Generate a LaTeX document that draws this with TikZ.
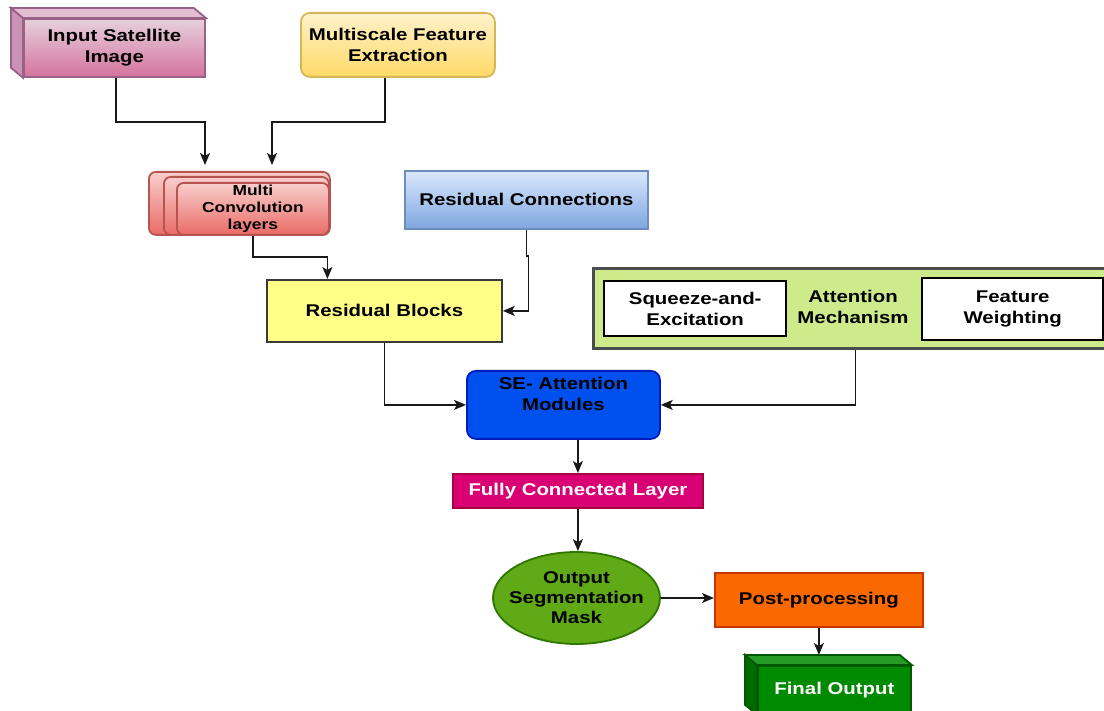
\documentclass[tikz,border=0pt]{standalone}
\usepackage{fontspec}
\setmainfont[FakeStretch=1.2]{Liberation Sans}
\usetikzlibrary{arrows.meta,shapes.geometric,calc}
\definecolor{inpT}{HTML}{E6D0DE}\definecolor{inpB}{HTML}{D5739D}\definecolor{inpD}{HTML}{996185}\definecolor{inpS}{HTML}{C993B5}
\definecolor{msT}{HTML}{FFF2CC}\definecolor{msB}{HTML}{FFD966}\definecolor{msD}{HTML}{D6B656}
\definecolor{cvT}{HTML}{F8CECC}\definecolor{cvB}{HTML}{EA6B66}\definecolor{cvD}{HTML}{B85450}
\definecolor{rcT}{HTML}{DAE8FC}\definecolor{rcB}{HTML}{7EA6E0}\definecolor{rcD}{HTML}{6C8EBF}
\definecolor{rbF}{HTML}{FFFF88}\definecolor{grD}{HTML}{36393D}
\definecolor{atF}{HTML}{CDEB8B}
\definecolor{seF}{HTML}{0050EF}\definecolor{seD}{HTML}{001DBC}
\definecolor{fcF}{HTML}{D80073}\definecolor{fcD}{HTML}{A50040}
\definecolor{elF}{HTML}{60A917}\definecolor{elD}{HTML}{2D7600}
\definecolor{ppF}{HTML}{FA6800}\definecolor{ppD}{HTML}{C73500}
\definecolor{fiF}{HTML}{008A00}\definecolor{fiD}{HTML}{005700}\definecolor{fiS}{HTML}{006B00}
\begin{document}
\begin{tikzpicture}[x=1pt,y=-1pt,
  box/.style={draw, line width=1.8pt, align=center, inner sep=0pt,
    font=\bfseries\fontsize{17}{21}\selectfont, anchor=north west},
  convst/.style={box, rounded corners=7pt, top color=cvT, bottom color=cvB, draw=cvD,
    font=\bfseries\fontsize{14.5}{17}\selectfont},
  arr/.style={-{Stealth[length=12pt,width=10pt,inset=3pt]}, line width=1.6pt, black!90}
]
\useasboundingbox (0,0) rectangle (1104,711);

% Input Satellite Image (cube)
\node[box, draw=inpD, top color=inpT, bottom color=inpB, minimum width=181, minimum height=58] (inp) at (23,18) {Input Satellite\\Image};
\path[draw=inpD, line width=1.8pt, fill=inpS] (inp.north west) -- ++(-12,-10) -- ($(inp.south west)+(-12,-10)$) -- (inp.south west) -- cycle;
\path[draw=inpD, line width=1.8pt, fill=inpT!80!inpB] (inp.north west) -- ++(-12,-10) -- ($(inp.north east)+(-12,-10)$) -- (inp.north east) -- cycle;

% Multiscale Feature Extraction
\node[box, rounded corners=9pt, draw=msD, top color=msT, bottom color=msB, minimum width=194, minimum height=64] (ms) at (300,12) {Multiscale Feature\\Extraction};

% Multi Convolution layers (stack)
\node[convst, minimum width=181, minimum height=63] (convc) at (148,171) {};
\node[convst, minimum width=165, minimum height=58] (convb) at (163,176) {};
\node[convst, minimum width=152, minimum height=52] (conv) at (176,182) {Multi\\Convolution\\layers};

% Residual Connections
\node[box, draw=rcD, top color=rcT, bottom color=rcB, minimum width=243, minimum height=58] (rc) at (404,170) {Residual Connections};

% Residual Blocks
\node[box, draw=grD, fill=rbF, minimum width=235, minimum height=62] (rb) at (266,279) {Residual Blocks};

% Attention Mechanism group
\node[box, draw=grD!90, line width=3pt, fill=atF, minimum width=524, minimum height=80] (att) at (592,267) {};
\node[font=\bfseries\fontsize{17}{21}\selectfont, align=center, inner sep=0pt] (attl) at (853,307) {Attention\\Mechanism};
\node[box, draw=black, line width=2.4pt, fill=white, minimum width=182, minimum height=55] (sq) at (603,280) {Squeeze-and-\\Excitation};
\node[box, draw=black, line width=2.4pt, fill=white, minimum width=181, minimum height=62] (fw) at (921,277) {Feature\\Weighting};

% SE- Attention Modules
\node[box, rounded corners=9pt, draw=seD, fill=seF, minimum width=193, minimum height=68,
  label={[anchor=north, yshift=-7pt, align=center, inner sep=0pt, font=\bfseries\fontsize{17}{21}\selectfont]north:SE- Attention\\Modules}] (se) at (466,370) {};

% Fully Connected Layer
\node[box, draw=fcD, fill=fcF, text=white, minimum width=250, minimum height=34] (fc) at (452,473) {Fully Connected Layer};

% Output Segmentation Mask
\node[ellipse, draw=elD, line width=1.8pt, fill=elF, minimum width=167, minimum height=92, inner sep=0pt,
  label={[align=center, inner sep=0pt, font=\bfseries\fontsize{17}{20}\selectfont]center:Output\\Segmentation\\Mask}] (om) at (576.5,598) {};

% Post-processing
\node[box, draw=ppD, fill=ppF, minimum width=208, minimum height=54] (pp) at (714,572) {Post-processing};

% Final Output (cube)
\node[box, draw=fiD, fill=fiF, text=white, minimum width=153, minimum height=48] (fin) at (757,665) {Final Output};
\path[draw=fiD, line width=1.8pt, fill=fiS] (fin.north west) -- ++(-12,-10) -- ($(fin.south west)+(-12,-10)$) -- (fin.south west) -- cycle;
\path[draw=fiD, line width=1.8pt, fill=fiF!85!white] (fin.north west) -- ++(-12,-10) -- ($(fin.north east)+(-12,-10)$) -- (fin.north east) -- cycle;

% Connectors
\draw[arr] ($(inp.south)+(1.5,0)$) -- ++(0,44) -| ($(convc.north west)+(57,-6)$);
\draw[arr] ($(ms.south)+(-13,0)$) -- ++(0,44) -| ($(convc.north west)+(124,-6)$);
\draw[arr] (conv.south) -- ++(0,21) -| ($(rb.north)+(-57,0)$);
\draw[arr] (rc.south) -- ++(0,26) -- ++(2,0) |- (rb.east);
\draw[arr] (rb.south) |- (se.west);
\draw[arr] (att.south) |- (se.east);
\draw[arr] (fc.north |- se.south) -- (fc.north);
\draw[arr] (fc.south) -- (fc.south |- om.north);
\draw[arr] (om.east) -- (om.east -| pp.west);
\draw[arr] (pp.south) -- ($(pp.south |- fin.north)+(0,-10)$);
\end{tikzpicture}
\end{document}
